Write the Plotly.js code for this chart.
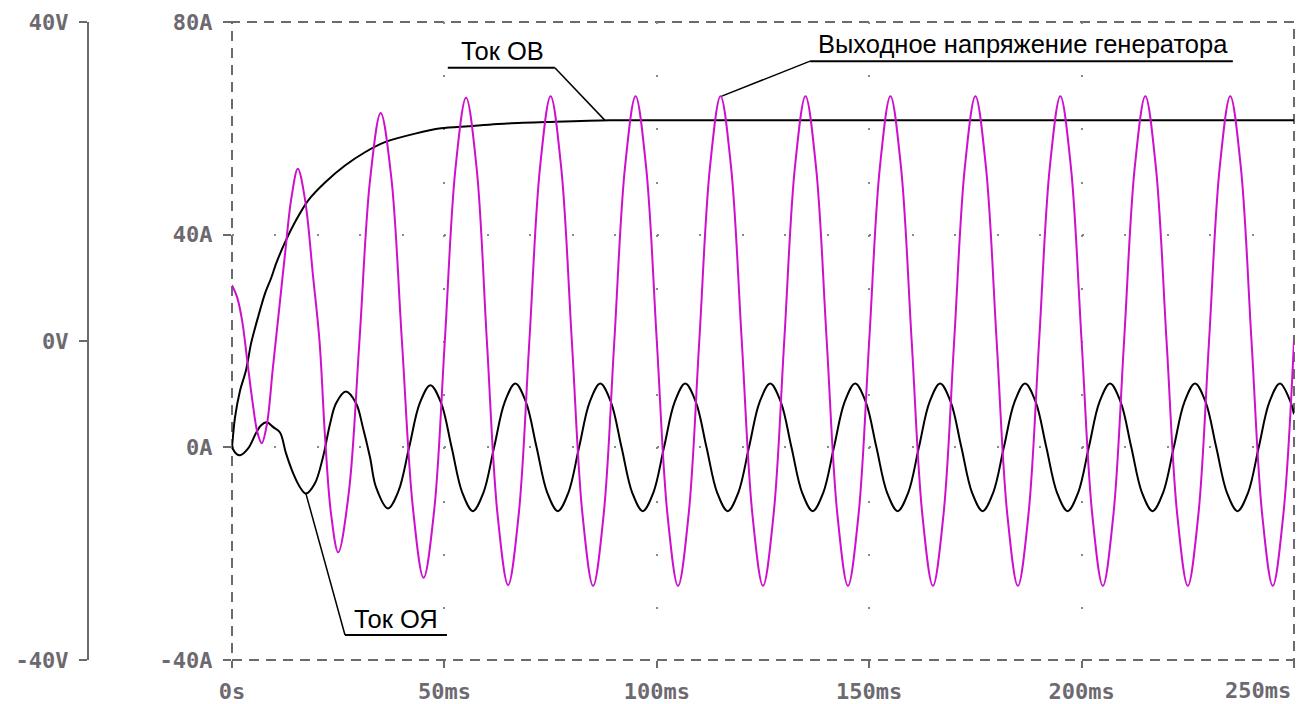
<!DOCTYPE html>
<html>
<head>
<meta charset="utf-8">
<script src="https://cdn.plot.ly/plotly-3.0.1.min.js"></script>
<style>html,body{margin:0;padding:0;background:#fff;}#chart{width:1308px;height:704px;}</style>
</head>
<body>
<div id="chart"></div>
<script>
// ---- data (time in ms) ----
const voltT = [0,1.2,2.4,3.6,4.8,6.0,7.0,8.2,9.6,11.0,12.5,14.0,15.5,17.2,19.1,20.6,21.9,23.3,25,27.5,30,32.5,35,37.5,40,42.6,45.1,47.6,50.1,52.6,55.1,57.6,60,62.5,65,67.5,70,72.5,75,77.5,
  80,82.5,85,87.5,90,92.5,95,97.5,
  100,102.5,105,107.5,110,112.5,115,117.5,
  120,122.5,125,127.5,130,132.5,135,137.5,
  140,142.5,145,147.5,150,152.5,155,157.5,
  160,162.5,165,167.5,170,172.5,175,177.5,
  180,182.5,185,187.5,190,192.5,195,197.5,
  200,202.5,205,207.5,210,212.5,215,217.5,
  220,222.5,225,227.5,230,232.5,235,237.5,
  240,242.5,245,247.5,250];
const voltV = [7.0,5.5,2.5,-2.5,-7.5,-11.5,-12.8,-10.5,-3.5,3.5,11.0,18.0,21.6,17.7,8.0,0,-12.0,-21.6,-26.5,-19.0,0,20.2,28.6,20.5,0,-21.0,-29.7,-21.2,0,21.6,30.5,21.6,0,-21.7,-30.6,-21.7,0,21.7,30.7,21.7,
  0,-21.7,-30.7,-21.7,0,21.7,30.7,21.7,
  0,-21.7,-30.7,-21.7,0,21.7,30.7,21.7,
  0,-21.7,-30.7,-21.7,0,21.7,30.7,21.7,
  0,-21.7,-30.7,-21.7,0,21.7,30.7,21.7,
  0,-21.7,-30.7,-21.7,0,21.7,30.7,21.7,
  0,-21.7,-30.7,-21.7,0,21.7,30.7,21.7,
  0,-21.7,-30.7,-21.7,0,21.7,30.7,21.7,
  0,-21.7,-30.7,-21.7,0,21.7,30.7,21.7,
  0,-21.7,-30.7,-21.7,0];

const fieldT = [0,0.7,1.9,3.3,4.5,6.1,7.8,9.2,10.4,12.5,15,17.9,21.9,26.6,31.3,36,43.1,49.2,55.6,64.7,75,89,110,150,200,250];
const fieldA = [0,5.6,10.7,14.5,19.6,24.4,29.0,31.8,34.6,38.6,42.6,46.4,49.8,53.0,55.5,57.4,59.0,60.0,60.4,60.9,61.2,61.5,61.5,61.5,61.5,61.5];

const armT = [0,1.0,1.9,3.8,5.6,6.8,8.2,9.7,11.3,12.7,14.4,16.0,17.4,19.5,21.4,23.1,24.5,26.8,29.2,30.8,32.5,33.9,36.7,39.2,41.7,44.2,46.7,49.2,51.7,54.2,56.7,59.2,
  61.7,64.2,66.7,69.2,71.7,74.2,76.7,79.2,
  81.7,84.2,86.7,89.2,91.7,94.2,96.7,99.2,
  101.7,104.2,106.7,109.2,111.7,114.2,116.7,119.2,
  121.7,124.2,126.7,129.2,131.7,134.2,136.7,139.2,
  141.7,144.2,146.7,149.2,151.7,154.2,156.7,159.2,
  161.7,164.2,166.7,169.2,171.7,174.2,176.7,179.2,
  181.7,184.2,186.7,189.2,191.7,194.2,196.7,199.2,
  201.7,204.2,206.7,209.2,211.7,214.2,216.7,219.2,
  221.7,224.2,226.7,229.2,231.7,234.2,236.7,239.2,
  241.7,244.2,246.7,249.2,250];
const armA = [0,-1.2,-1.5,-0.2,2.6,4.1,4.7,3.8,2.8,-1.1,-4.9,-7.5,-8.7,-6.8,-1.9,4.5,8.3,10.5,8.3,3.8,-1.9,-7.5,-11.5,-8.2,0,8.3,11.7,8.4,0,-8.5,-12.0,-8.5,
  0,8.5,12,8.5,0,-8.5,-12,-8.5,
  0,8.5,12,8.5,0,-8.5,-12,-8.5,
  0,8.5,12,8.5,0,-8.5,-12,-8.5,
  0,8.5,12,8.5,0,-8.5,-12,-8.5,
  0,8.5,12,8.5,0,-8.5,-12,-8.5,
  0,8.5,12,8.5,0,-8.5,-12,-8.5,
  0,8.5,12,8.5,0,-8.5,-12,-8.5,
  0,8.5,12,8.5,0,-8.5,-12,-8.5,
  0,8.5,12,8.5,0,-8.5,-12,-8.5,
  0,8.5,12,8.5,6.2];

const xTickVals = [0,50,100,150,200,250];
const xTickText = ['0s','50ms','100ms','150ms','200ms','250ms'];
const aTickVals = [-40,0,40,80];
const aTickText = ['-40A','0A','40A','80A'];
const vTickVals = [-40,0,40];
const vTickText = ['-40V','0V','40V'];

const labelOV = 'Ток ОВ';
const labelOY = 'Ток ОЯ';
const labelGen = 'Выходное напряжение генератора';

// ---- styling ----
const gray = '#6d6970';
const tickFont = {family: 'DejaVu Sans Mono, monospace', size: 22, color: gray, weight: 'bold'};
const annFont = {family: 'Liberation Sans, Arial, sans-serif', size: 25.5, color: '#000'};

const traces = [
  {x: voltT, y: voltV, yaxis: 'y2', type: 'scatter', mode: 'lines',
   line: {color: '#cc10cc', width: 2, shape: 'spline', smoothing: 1}, hoverinfo: 'skip'},
  {x: fieldT, y: fieldA, yaxis: 'y', type: 'scatter', mode: 'lines',
   line: {color: '#000', width: 2, shape: 'spline', smoothing: 0.8}, hoverinfo: 'skip'},
  {x: armT, y: armA, yaxis: 'y', type: 'scatter', mode: 'lines',
   line: {color: '#000', width: 2, shape: 'spline', smoothing: 1}, hoverinfo: 'skip'}
];

// the last x label is right-aligned at the plot edge (as in the reference), the rest are centred on ticks
const lastIdx = xTickText.length - 1;
const xTickTextShown = xTickText.map((t, i) => i === lastIdx ? '' : t);

const layout = {
  width: 1308, height: 704,
  margin: {l: 88, r: 14, t: 22, b: 44, pad: 0},
  paper_bgcolor: '#fff', plot_bgcolor: '#fff',
  showlegend: false,
  xaxis: {
    domain: [144/1206, 1], range: [0, 250],
    tickmode: 'array', tickvals: xTickVals, ticktext: xTickTextShown,
    ticks: 'outside', ticklen: 7, tickwidth: 2, tickcolor: gray,
    tickfont: tickFont, ticklabelstandoff: 5,
    showgrid: true, gridcolor: '#8a868d', gridwidth: 2, griddash: '2px,51.17px',
    zeroline: false, showline: false
  },
  yaxis: {
    range: [-40, 80], anchor: 'x',
    tickmode: 'array', tickvals: aTickVals, ticktext: aTickText,
    ticks: 'outside', ticklen: 8, tickwidth: 2, tickcolor: gray,
    tickfont: tickFont, ticklabelstandoff: 6,
    showgrid: true, gridcolor: '#8a868d', gridwidth: 2, griddash: '2px,40.48px',
    zeroline: false, showline: false
  },
  yaxis2: {
    range: [-40, 40], overlaying: 'y', anchor: 'free', position: 0, side: 'left',
    tickmode: 'array', tickvals: vTickVals, ticktext: vTickText,
    ticks: 'outside', ticklen: 8, tickwidth: 2, tickcolor: gray,
    tickfont: tickFont, ticklabelstandoff: 6,
    showline: true, linecolor: gray, linewidth: 2,
    showgrid: false, zeroline: false
  },
  shapes: [
    {type: 'rect', xref: 'x domain', yref: 'y domain', x0: 0, x1: 1, y0: 0, y1: 1,
     line: {color: gray, width: 2, dash: '10px,7px'}, layer: 'below'},
    // Ток ОВ
    {type: 'line', xref: 'x', yref: 'y', x0: 50.8, x1: 76.0, y0: 71.4, y1: 71.4, line: {color: '#000', width: 2}},
    {type: 'line', xref: 'x', yref: 'y', x0: 76.0, x1: 87.8, y0: 71.4, y1: 61.5, line: {color: '#000', width: 1.5}},
    // Выходное напряжение генератора
    {type: 'line', xref: 'x', yref: 'y', x0: 136.1, x1: 235.6, y0: 72.6, y1: 72.6, line: {color: '#000', width: 2}},
    {type: 'line', xref: 'x', yref: 'y2', x0: 136.1, x1: 115.3, y0: 35.1, y1: 30.7, line: {color: '#000', width: 1.5}},
    // Ток ОЯ
    {type: 'line', xref: 'x', yref: 'y', x0: 26.6, x1: 50.6, y0: -35.3, y1: -35.3, line: {color: '#000', width: 2}},
    {type: 'line', xref: 'x', yref: 'y', x0: 26.6, x1: 17.4, y0: -35.3, y1: -8.7, line: {color: '#000', width: 1.5}}
  ],
  annotations: [
    {text: labelOV, xref: 'x', yref: 'y', x: 63.7, y: 74.6, xanchor: 'center', yanchor: 'middle', showarrow: false, font: annFont},
    {text: labelGen, xref: 'x', yref: 'y', x: 186.2, y: 75.9, xanchor: 'center', yanchor: 'middle', showarrow: false, font: annFont},
    {text: labelOY, xref: 'x', yref: 'y', x: 38.7, y: -32.2, xanchor: 'center', yanchor: 'middle', showarrow: false, font: annFont},
    {text: xTickText[lastIdx], xref: 'x', yref: 'paper', x: xTickVals[lastIdx], y: 0, xanchor: 'right', yanchor: 'middle',
     yshift: -30, xshift: -1, showarrow: false, font: tickFont}
  ]
};

Plotly.newPlot('chart', traces, layout, {displayModeBar: false, staticPlot: true});
</script>
</body>
</html>
